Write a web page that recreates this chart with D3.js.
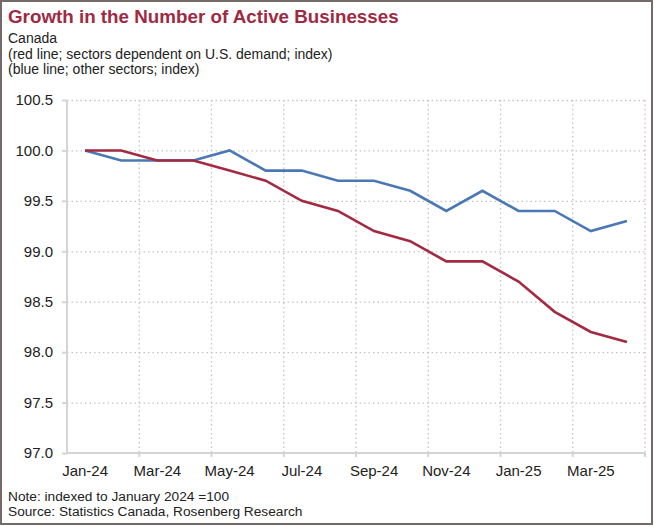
<!DOCTYPE html>
<html>
<head>
<meta charset="utf-8">
<script src="https://cdn.jsdelivr.net/npm/d3@7"></script>
<style>
  body { margin: 0; background: #fff; }
  text { font-family: "Liberation Sans", Arial, sans-serif; }
</style>
</head>
<body>
<div id="chart"></div>
<script>
// data
const months = ['Jan-24', 'Feb-24', 'Mar-24', 'Apr-24', 'May-24', 'Jun-24', 'Jul-24', 'Aug-24',
    'Sep-24', 'Oct-24', 'Nov-24', 'Dec-24', 'Jan-25', 'Feb-25', 'Mar-25', 'Apr-25'];
const usDependent = [100.0, 100.0, 99.9, 99.9, 99.8, 99.7, 99.5, 99.4,
    99.2, 99.1, 98.9, 98.9, 98.7, 98.4, 98.2, 98.1];
const otherSectors = [100.0, 99.9, 99.9, 99.9, 100.0, 99.8, 99.8, 99.7,
    99.7, 99.6, 99.4, 99.6, 99.4, 99.4, 99.2, 99.3];
const yTicks = [97.0, 97.5, 98.0, 98.5, 99.0, 99.5, 100.0, 100.5];

const title = 'Growth in the Number of Active Businesses';
const subtitle = ['Canada', '(red line; sectors dependent on U.S. demand; index)', '(blue line; other sectors; index)'];
const notes = ['Note: indexed to January 2024 =100', 'Source: Statistics Canada, Rosenberg Research'];

const width = 654;
const height = 527;
const margin = { top: 100, bottom: 74, left: 67, right: 9 };

const svg = d3.select('#chart')
    .append('svg')
    .attr('width', width)
    .attr('height', height);

// outer frame
svg.append('rect')
    .attr('x', 1)
    .attr('y', 1)
    .attr('width', width - 3)
    .attr('height', height - 4)
    .attr('fill', 'none')
    .attr('stroke', '#75696a')
    .attr('stroke-width', 2);

svg.append('text')
    .attr('x', 8)
    .attr('y', 23)
    .attr('fill', '#9e2a43')
    .style('font-size', '18.8px')
    .style('font-weight', 'bold')
    .text(title);

svg.selectAll('.subtitle')
    .data(subtitle)
    .enter()
    .append('text')
    .classed('subtitle', true)
    .attr('x', 8)
    .attr('y', (d, i) => 43 + i * 15.5)
    .attr('fill', '#222')
    .style('font-size', '14px')
    .text(d => d);

svg.selectAll('.note')
    .data(notes)
    .enter()
    .append('text')
    .classed('note', true)
    .attr('x', 8)
    .attr('y', (d, i) => 500.5 + i * 15.5)
    .attr('fill', '#222')
    .style('font-size', '13.7px')
    .text(d => d);

const chartWidth = width - margin.left - margin.right;
const chartHeight = height - margin.top - margin.bottom;

const chart = svg.append('g')
    .attr('transform', `translate(${margin.left},${margin.top})`);

const xScale = d3.scaleBand()
    .domain(months)
    .range([0, chartWidth]);
const yScale = d3.scaleLinear()
    .domain([97, 100.5])
    .range([chartHeight, 0]);

// gridlines
const yGridlines = d3.axisLeft()
    .scale(yScale)
    .tickValues(yTicks.slice(1))
    .tickSize(-chartWidth)
    .tickFormat('');
chart.append('g')
    .classed('gridline', true)
    .call(yGridlines);

// vertical gridlines sit on band edges every two months
const bandEdges = months.map((m, i) => i).filter(i => i % 2 === 1).map(i => xScale(months[i]) + xScale.bandwidth());
chart.append('g')
    .classed('gridline', true)
    .selectAll('line')
    .data(bandEdges)
    .enter()
    .append('line')
    .attr('x1', d => d)
    .attr('x2', d => d)
    .attr('y1', 0)
    .attr('y2', chartHeight);

chart.selectAll('.gridline line')
    .attr('stroke', '#c4c4c4')
    .attr('stroke-width', 1.3)
    .attr('stroke-dasharray', '1.5,3');
chart.selectAll('.gridline .domain').remove();

// axes
const yAxis = d3.axisLeft()
    .scale(yScale)
    .tickValues(yTicks)
    .tickSize(5)
    .tickPadding(9)
    .tickFormat(d3.format('.1f'));
const yG = chart.append('g')
    .classed('y axis', true)
    .call(yAxis);

const xAxis = d3.axisBottom()
    .scale(xScale)
    .tickValues(months.filter((m, i) => i % 2 === 0))
    .tickSize(0)
    .tickPadding(12);
const xG = chart.append('g')
    .classed('x axis', true)
    .attr('transform', `translate(0,${chartHeight})`)
    .call(xAxis);

// x ticks at the gridline positions
xG.selectAll('.edge-tick')
    .data(bandEdges)
    .enter()
    .append('line')
    .classed('edge-tick', true)
    .attr('x1', d => d)
    .attr('x2', d => d)
    .attr('y1', 0)
    .attr('y2', 4);

[yG, xG].forEach(g => {
    g.select('.domain').attr('stroke', '#d4d4d4').attr('stroke-width', 2);
    g.selectAll('line').attr('stroke', '#d4d4d4').attr('stroke-width', 2);
    g.selectAll('text')
        .attr('fill', '#222')
        .style('font-size', '15px')
        .style('font-family', '"Liberation Sans", Arial, sans-serif');
});
yG.select('.domain').attr('d', `M0,0V${chartHeight}`);
xG.select('.domain').attr('d', `M0,0H${chartWidth}`);

// lines
const line = d3.line()
    .x((d, i) => xScale(months[i]) + xScale.bandwidth() / 2)
    .y(d => yScale(d));

chart.append('path')
    .datum(otherSectors)
    .attr('fill', 'none')
    .attr('stroke', '#4a78b4')
    .attr('stroke-width', 2.6)
    .attr('d', line);

chart.append('path')
    .datum(usDependent)
    .attr('fill', 'none')
    .attr('stroke', '#a32a40')
    .attr('stroke-width', 2.6)
    .attr('d', line);
</script>
</body>
</html>
